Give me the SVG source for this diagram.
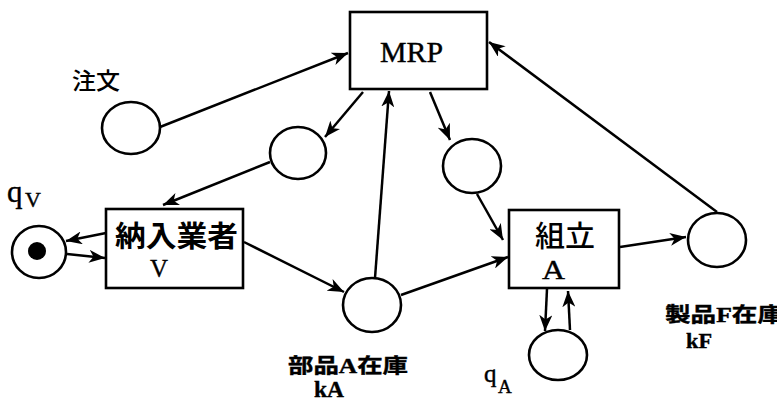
<svg xmlns="http://www.w3.org/2000/svg" width="777" height="409" viewBox="0 0 777 409">
<style>
.box{fill:#fff;stroke:#000;stroke-width:2.6}
.pl{fill:#fff;stroke:#000;stroke-width:2.6}
.e{fill:none;stroke:#000;stroke-width:2.5;marker-end:url(#ah)}
.t{font-family:"Liberation Serif","Noto Sans CJK JP",serif;fill:#000;stroke:#000;stroke-width:0.4}
.j{font-family:"Noto Sans CJK JP","Liberation Serif",serif;fill:#000}
</style>
<defs>
<marker id="ah" markerUnits="userSpaceOnUse" markerWidth="18" markerHeight="13" refX="16" refY="6.5" orient="auto">
<path d="M0,0 L16,6.5 L0,13 L4.5,6.5 z" fill="#000"/>
</marker>
</defs>
<rect width="777" height="409" fill="#fff"/>
<g id="connectors">
<line class="e" x1="160" y1="127" x2="348" y2="53"/>
<line class="e" x1="363" y1="92" x2="325" y2="137"/>
<line class="e" x1="270" y1="162" x2="163" y2="205"/>
<line class="e" x1="106" y1="233" x2="66" y2="241"/>
<line class="e" x1="67" y1="254" x2="105" y2="258"/>
<line class="e" x1="244" y1="242" x2="344" y2="292"/>
<line class="e" x1="375" y1="278" x2="389" y2="91"/>
<line class="e" x1="401" y1="295" x2="508" y2="257"/>
<line class="e" x1="430" y1="92" x2="450" y2="140"/>
<line class="e" x1="477" y1="194" x2="503" y2="240"/>
<line class="e" x1="620" y1="247" x2="686" y2="237"/>
<line class="e" x1="717" y1="212" x2="489" y2="42"/>
<line class="e" x1="547" y1="289" x2="545" y2="331"/>
<line class="e" x1="570" y1="330" x2="568" y2="291"/>
</g>
<g id="mrp">
<rect class="box" x="350" y="12" width="137" height="77"/>
<text class="t" x="411.5" y="62" font-size="29" text-anchor="middle" textLength="63" lengthAdjust="spacingAndGlyphs">MRP</text>
</g>
<g id="order">
<ellipse class="pl" cx="131" cy="128" rx="29" ry="26"/>
<text class="j" x="72" y="89" font-size="23" font-weight="500" textLength="48" lengthAdjust="spacingAndGlyphs">注文</text>
</g>
<g id="p2">
<ellipse class="pl" cx="298" cy="153" rx="28" ry="26"/>
</g>
<g id="p3">
<ellipse class="pl" cx="472" cy="166" rx="29" ry="27"/>
</g>
<g id="vendor">
<rect class="box" x="106" y="209" width="137" height="79"/>
<text class="j" x="115" y="247" font-size="29" font-weight="bold" textLength="123" lengthAdjust="spacingAndGlyphs">納入業者</text>
<text class="t" x="150" y="277" font-size="26" textLength="18" lengthAdjust="spacingAndGlyphs">V</text>
</g>
<g id="qv">
<ellipse class="pl" cx="39" cy="252" rx="27" ry="26"/>
<circle cx="37" cy="251" r="9" fill="#000"/>
<text class="t" x="7" y="202" font-size="31">q</text>
<text class="t" x="25" y="207" font-size="22">V</text>
</g>
<g id="partA">
<ellipse class="pl" cx="372" cy="305" rx="29" ry="27"/>
<text class="t" x="288" y="373" font-size="20" font-weight="bold" textLength="120" lengthAdjust="spacingAndGlyphs">部品A在庫</text>
<text class="t" x="314" y="397" font-size="24" font-weight="bold" textLength="30" lengthAdjust="spacingAndGlyphs">kA</text>
</g>
<g id="assembly">
<rect class="box" x="509" y="210" width="110" height="78"/>
<text class="j" x="535" y="247" font-size="29" font-weight="500" textLength="60" lengthAdjust="spacingAndGlyphs">組立</text>
<text class="t" x="542" y="279" font-size="27" textLength="23" lengthAdjust="spacingAndGlyphs">A</text>
</g>
<g id="productF">
<ellipse class="pl" cx="717" cy="240" rx="29" ry="27"/>
<text class="t" x="665" y="322" font-size="20" font-weight="bold" textLength="118" lengthAdjust="spacingAndGlyphs">製品F在庫</text>
<text class="t" x="686" y="348" font-size="22" font-weight="bold" textLength="26" lengthAdjust="spacingAndGlyphs">kF</text>
</g>
<g id="qa">
<ellipse class="pl" cx="558" cy="355" rx="29" ry="25"/>
<text class="t" x="484" y="382" font-size="25">q</text>
<text class="t" x="498" y="393" font-size="19">A</text>
</g>
</svg>
